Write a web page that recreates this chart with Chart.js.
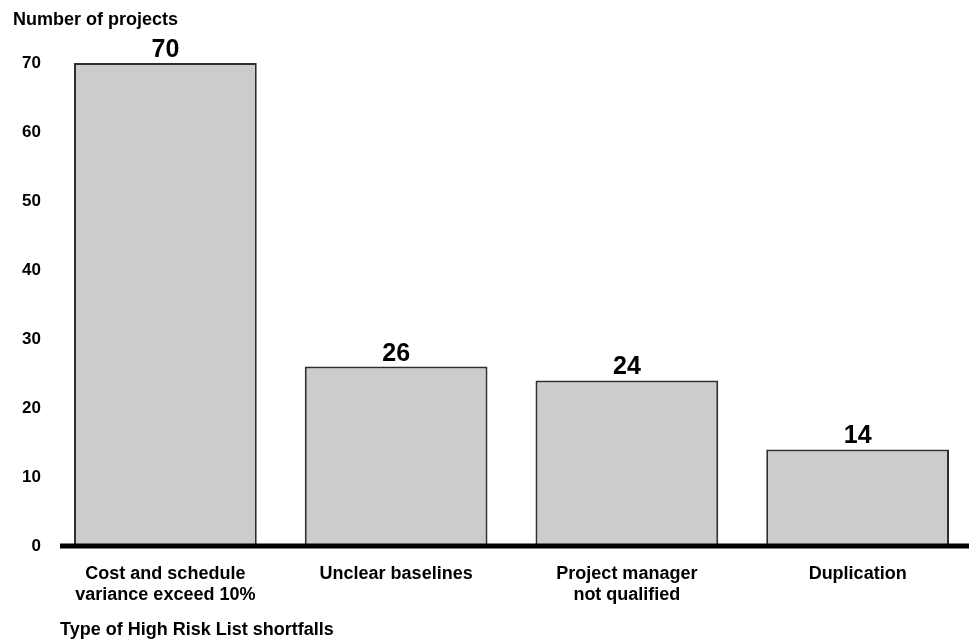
<!DOCTYPE html>
<html>
<head>
<meta charset="utf-8">
<title>High Risk List shortfalls</title>
<script src="https://cdn.jsdelivr.net/npm/chart.js@4.4.1/dist/chart.umd.min.js"></script>
<style>
  html, body { margin: 0; padding: 0; background: #ffffff; }
  #wrap { width: 974px; height: 641px; position: relative; }
</style>
</head>
<body>
<div id="wrap"><canvas id="shortfallChart"></canvas></div>
<script>
// chart data
var categories = [
  ['Cost and schedule', 'variance exceed 10%'],
  'Unclear baselines',
  ['Project manager', 'not qualified'],
  'Duplication'
];
var projectCounts = [70, 26, 24, 14];
var yTicks = [0, 10, 20, 30, 40, 50, 60, 70];
var yAxisTitle = 'Number of projects';
var xAxisTitle = 'Type of High Risk List shortfalls';

var fontFamily = '"Liberation Sans", Arial, Helvetica, sans-serif';

// thick baseline, value labels on top of bars and the bottom caption
var barExtras = {
  id: 'barExtras',
  afterDatasetsDraw: function(chart) {
    var ctx = chart.ctx;
    var area = chart.chartArea;
    var yScale = chart.scales.y;
    var zeroY = yScale.getPixelForValue(0);

    ctx.save();
    // axis line
    ctx.strokeStyle = '#000000';
    ctx.lineWidth = 5;
    ctx.beginPath();
    ctx.moveTo(area.left + 10, zeroY);
    ctx.lineTo(area.right - 4, zeroY);
    ctx.stroke();

    // values above each bar
    ctx.fillStyle = '#000000';
    ctx.font = 'bold 25px ' + fontFamily;
    ctx.textAlign = 'center';
    ctx.textBaseline = 'alphabetic';
    chart.getDatasetMeta(0).data.forEach(function(bar, i) {
      ctx.fillText(String(projectCounts[i]), bar.x, bar.y - 6);
    });

    // caption under the category labels
    ctx.font = 'bold 18px ' + fontFamily;
    ctx.textAlign = 'left';
    ctx.textBaseline = 'middle';
    ctx.fillText(xAxisTitle, area.left + 10, area.bottom + 84);
    ctx.restore();
  }
};

var shortfallCanvas = document.getElementById('shortfallChart').getContext('2d');

var shortfallChart = new Chart(shortfallCanvas, {
  type: 'bar',
  data: {
    labels: categories,
    datasets: [{
      label: yAxisTitle,
      data: projectCounts,
      backgroundColor: '#cccccc',
      borderColor: '#2e2e2e',
      borderWidth: 2,
      borderSkipped: false,
      barPercentage: 0.792,
      categoryPercentage: 1.0
    }]
  },
  options: {
    responsive: true,
    maintainAspectRatio: false,
    animation: false,
    layout: {
      padding: { left: 13, right: 1, top: 0, bottom: 17 }
    },
    plugins: {
      legend: { display: false },
      tooltip: { enabled: false },
      title: {
        display: true,
        text: yAxisTitle,
        align: 'start',
        color: '#000000',
        font: { family: fontFamily, size: 18, weight: 'bold', lineHeight: 1.2 },
        padding: { top: 9, bottom: 32.4 }
      }
    },
    scales: {
      x: {
        offset: true,
        grid: { display: false, drawTicks: false },
        border: { display: false },
        ticks: {
          color: '#000000',
          padding: 18,
          maxRotation: 0,
          autoSkip: false,
          font: { family: fontFamily, size: 18, weight: 'bold', lineHeight: 21 / 18 }
        }
      },
      y: {
        min: 0,
        max: 70,
        afterBuildTicks: function(scale) {
          scale.ticks = yTicks.map(function(v) { return { value: v }; });
        },
        afterFit: function(scale) {
          scale.width = 37;
        },
        grid: { display: false, drawTicks: false },
        border: { display: false },
        ticks: {
          color: '#000000',
          padding: 9,
          font: { family: fontFamily, size: 17, weight: 'bold' }
        }
      }
    }
  },
  plugins: [barExtras]
});
</script>
</body>
</html>
